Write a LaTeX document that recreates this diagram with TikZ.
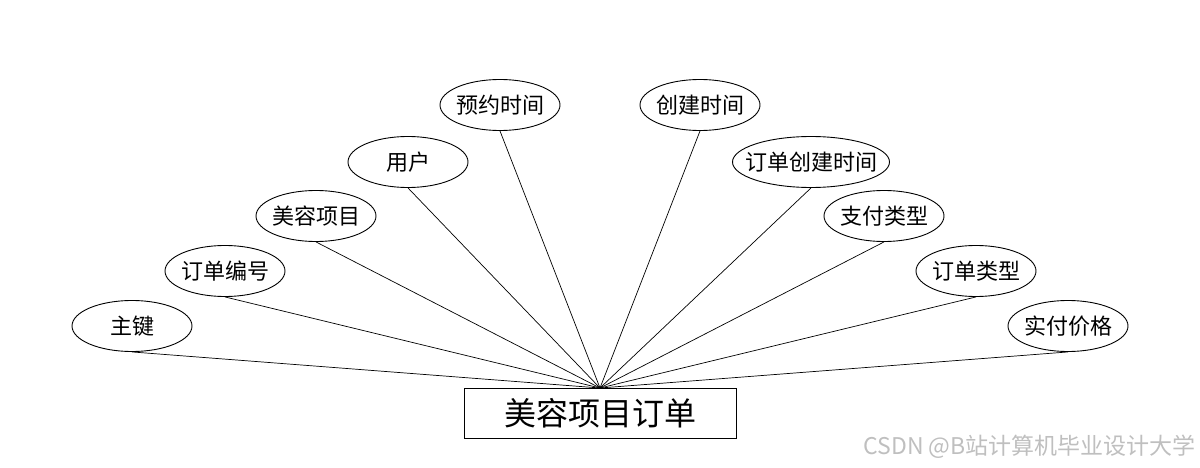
\documentclass[tikz,border=0pt]{standalone}
\usepackage{fontspec}
\setmainfont{Noto Sans CJK SC}
\usetikzlibrary{shapes.geometric}
\tikzset{
  attr/.style={draw=black, line width=0.9pt, ellipse, minimum height=51pt, inner sep=0pt, inner xsep=-4pt, font=\fontsize{22}{24}\selectfont},
  entity/.style={draw=black, line width=0.9pt, rectangle, minimum width=272pt, minimum height=50pt, inner sep=0pt, font=\fontsize{32}{36}\selectfont},
  link/.style={line width=0.7pt, black}
}
\begin{document}
\begin{tikzpicture}[x=1pt,y=-1pt]
\useasboundingbox (0,0) rectangle (1200,468);
\node[entity] (e) at (600,413) {美容项目订单};
\coordinate (hub) at (600,388);
\node[attr, minimum width=120pt] (a1) at (132,326) {主键};
\node[attr, minimum width=120pt] (a2) at (225,271) {订单编号};
\node[attr, minimum width=120pt] (a3) at (316,216) {美容项目};
\node[attr, minimum width=120pt] (a4) at (408,162) {用户};
\node[attr, minimum width=120pt] (a5) at (500,105) {预约时间};
\node[attr, minimum width=120pt] (a6) at (700,105) {创建时间};
\node[attr, minimum width=157pt, inner xsep=-23pt] (a7) at (811,162) {订单创建时间};
\node[attr, minimum width=120pt] (a8) at (884,216) {支付类型};
\node[attr, minimum width=120pt] (a9) at (976,271) {订单类型};
\node[attr, minimum width=120pt] (a10) at (1068,326) {实付价格};
\foreach \n in {a1,a2,a3,a4,a5,a6,a7,a8,a9,a10}
  \draw[link] (\n.south) -- (hub);
\node[text=black!25, font=\fontsize{23}{26}\selectfont, anchor=east, inner sep=0pt] (wm) at (1196,447) {CSDN @B站计算机毕业设计大学};
\end{tikzpicture}
\end{document}
